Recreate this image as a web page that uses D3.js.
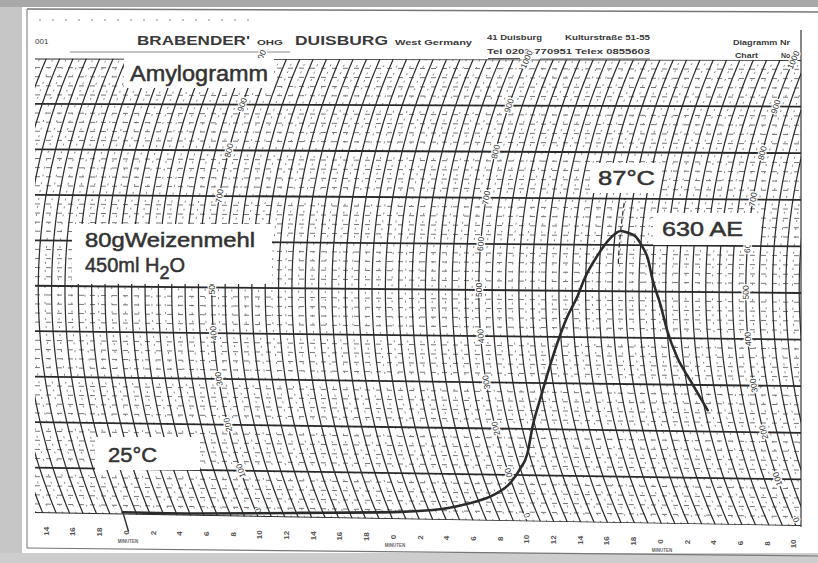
<!DOCTYPE html>
<html>
<head>
<meta charset="utf-8">
<script src="https://cdn.jsdelivr.net/npm/d3@7"></script>
<style>
  body { margin: 0; background: #fff; }
  svg { display: block; }
  text { font-family: "Liberation Sans", Arial, sans-serif; }
</style>
</head>
<body>
<svg id="chart" width="818" height="563"></svg>
<script>
// amylogram curve (minutes after start, Brabender units)
const curveMinutes = [0, 5.7, 13.3, 20.8, 23.3, 26.1, 28.3, 29.9, 30.9, 31.9, 32.8, 33.8, 34.6, 35.6, 36.5, 37.4, 37.9, 38.8, 39.7, 40.4, 41.0, 41.5, 42.1, 42.6, 43.0, 43.6, 44.0, 44.55, 45.3, 46.2]
const curveBU = [5, 5, 10, 16, 21, 36, 56, 83, 111, 148, 205, 264, 314, 380, 439, 489, 526, 576, 615, 630, 626, 620, 598, 571, 527, 471, 417, 360, 310, 246]

// printed scales of the chart paper
const buTicks = [0, 100, 200, 300, 400, 500, 600, 700, 800, 900, 1000]
const minuteTicks = [-6, -4, -2, 0, 2, 4, 6, 8, 10, 12, 14, 16, 18, 20, 22, 24, 26, 28, 30, 32, 34, 36, 38, 40, 42, 44, 46, 48, 50]
const minuteLabels = ["14", "16", "18", "0", "2", "4", "6", "8", "10", "12", "14", "16", "18", "0", "2", "4", "6", "8", "10", "12", "14", "16", "18", "0", "2", "4", "6", "8", "10"]
const minutenAt = [0, 20, 40]
const arcLabelMinutes = [10, 30, 50]

var svg = d3.select("#chart")

// paper geometry (the scan is a bit skewed, bottom sags to the right)
var xL = 35, xR = 801
var xMin = d3.scaleLinear().domain([0, 50]).range([125, 792.5])
var yLeft = d3.scaleLinear().domain([0, 1000]).range([513, 58.5])
var yRight = d3.scaleLinear().domain([0, 1000]).range([526, 60])
var R = 580, CY = 290, YREF = 518

function yAt(bu, x) {
    var f = (x - xL) / (xR - xL)
    return yLeft(bu) * (1 - f) + yRight(bu) * f
}
function off(y) { return R - Math.sqrt(R * R - (y - CY) * (y - CY)) }
// point on the pen arc of minute t at height bu
function pt(t, bu) {
    var xb = xMin(t), x = xb, y
    for (var i = 0; i < 4; i++) {
        y = yAt(bu, x)
        x = xb + off(y) - off(YREF)
    }
    return [x, y]
}

// scan frame
svg.append("rect").attr("x", 0).attr("y", 0).attr("width", 818).attr("height", 563).attr("fill", "#fff")
svg.append("rect").attr("x", 0).attr("y", 0).attr("width", 22).attr("height", 563).attr("fill", "#c6c6c6")
svg.append("rect").attr("x", 0).attr("y", 0).attr("width", 818).attr("height", 7).attr("fill", "#a8a8a8")
svg.append("rect").attr("x", 0).attr("y", 553).attr("width", 818).attr("height", 10).attr("fill", "#cdcdcd")
svg.append("line").attr("x1", 27).attr("y1", 9).attr("x2", 818).attr("y2", 12).attr("stroke", "#777").attr("stroke-width", 1.5)
svg.append("line").attr("x1", 27).attr("y1", 9).attr("x2", 27).attr("y2", 548).attr("stroke", "#888").attr("stroke-width", 1.2)
svg.append("line").attr("x1", 27).attr("y1", 548).attr("x2", 818).attr("y2", 556).attr("stroke", "#777").attr("stroke-width", 1.2)

// header
var hdr = svg.append("g").attr("fill", "#3a3a3a")
hdr.append("text").attr("x", 35).attr("y", 44).attr("font-size", 8).text("001")
hdr.append("text").attr("x", 137).attr("y", 45).attr("font-size", 12.5).attr("font-weight", "bold")
    .attr("textLength", 113).attr("lengthAdjust", "spacingAndGlyphs").text("BRABENDER'")
hdr.append("text").attr("x", 257).attr("y", 45).attr("font-size", 8).attr("font-weight", "bold")
    .attr("textLength", 26).attr("lengthAdjust", "spacingAndGlyphs").text("OHG")
hdr.append("text").attr("x", 295).attr("y", 45).attr("font-size", 12.5).attr("font-weight", "bold")
    .attr("textLength", 93).attr("lengthAdjust", "spacingAndGlyphs").text("DUISBURG")
hdr.append("text").attr("x", 395).attr("y", 45).attr("font-size", 7).attr("font-weight", "bold")
    .attr("textLength", 77).attr("lengthAdjust", "spacingAndGlyphs").text("West Germany")
hdr.append("text").attr("x", 487).attr("y", 40).attr("font-size", 7).attr("font-weight", "bold")
    .attr("textLength", 55).attr("lengthAdjust", "spacingAndGlyphs").text("41 Duisburg")
hdr.append("text").attr("x", 565).attr("y", 40).attr("font-size", 7).attr("font-weight", "bold")
    .attr("textLength", 85).attr("lengthAdjust", "spacingAndGlyphs").text("Kulturstraße 51-55")
hdr.append("text").attr("x", 487).attr("y", 54).attr("font-size", 7).attr("font-weight", "bold")
    .attr("textLength", 163).attr("lengthAdjust", "spacingAndGlyphs").text("Tel  0203-770951  Telex 0855603")
hdr.append("text").attr("x", 733).attr("y", 45).attr("font-size", 7).attr("font-weight", "bold")
    .attr("textLength", 57).attr("lengthAdjust", "spacingAndGlyphs").text("Diagramm Nr")
hdr.append("text").attr("x", 735).attr("y", 58).attr("font-size", 7).attr("font-weight", "bold")
    .attr("textLength", 23).attr("lengthAdjust", "spacingAndGlyphs").text("Chart")
hdr.append("text").attr("x", 781).attr("y", 58).attr("font-size", 7).attr("font-weight", "bold").text("No")
svg.append("line").attr("x1", 488).attr("y1", 58.5).attr("x2", 520).attr("y2", 58.5).attr("stroke", "#555")
svg.append("line").attr("x1", 540).attr("y1", 59).attr("x2", 650).attr("y2", 59).attr("stroke", "#555")
svg.append("line").attr("x1", 70).attr("y1", 52).attr("x2", 290).attr("y2", 52).attr("stroke", "#888")
svg.append("line").attr("x1", xR).attr("y1", 30).attr("x2", xR).attr("y2", 527).attr("stroke", "#444").attr("stroke-width", 1.3)
svg.selectAll(".dot").data(d3.range(40, 250, 13)).enter().append("circle")
    .attr("cx", d => d).attr("cy", 20).attr("r", 0.8).attr("fill", "#777")

// grid
var clip = [[xL, yAt(1000, xL)], [xR, yAt(1000, xR)], [xR, yAt(0, xR)], [xL, yAt(0, xL)]]
svg.append("clipPath").attr("id", "gridclip").append("polygon").attr("points", clip.map(p => p.join(",")).join(" "))
var grid = svg.append("g").attr("clip-path", "url(#gridclip)")
var arcLine = d3.line()

var minorBU = d3.range(0, 1001, 20).filter(b => b % 100 != 0)
grid.selectAll(".hminor").data(minorBU).enter().append("line")
    .attr("x1", xL).attr("x2", xR).attr("y1", d => yAt(d, xL)).attr("y2", d => yAt(d, xR))
    .attr("stroke", "#666").attr("stroke-width", 0.9).attr("stroke-dasharray", "5,6")

var arcT = d3.range(-10, 58, 1)
var halfT = d3.range(-9.5, 58, 1)
function arcPath(t, b0, b1) {
    return arcLine(d3.range(b0, b1 + 0.1, 20).map(b => pt(t, b)))
}
grid.selectAll(".aminor").data(halfT).enter().append("path")
    .attr("d", d => arcPath(d, 0, 1000)).attr("fill", "none")
    .attr("stroke", "#777").attr("stroke-width", 0.9).attr("stroke-dasharray", "2,6")
grid.selectAll(".amajor").data(arcT).enter().append("path")
    .attr("d", d => arcPath(d, 0, 1000)).attr("fill", "none")
    .attr("stroke", "#2e2e2e").attr("stroke-width", 1.25)
grid.selectAll(".hmajor").data(buTicks).enter().append("line")
    .attr("x1", xL).attr("x2", xR).attr("y1", d => yAt(d, xL)).attr("y2", d => yAt(d, xR))
    .attr("stroke", "#2a2a2a").attr("stroke-width", 1.8)

// start arc runs on below the baseline
var s0 = pt(0, 0)
svg.append("line").attr("x1", s0[0]).attr("y1", s0[1]).attr("x2", s0[0] + 5).attr("y2", s0[1] + 17)
    .attr("stroke", "#2e2e2e").attr("stroke-width", 1.4)

// BU numbers printed along some arcs
var arcLabels = []
arcLabelMinutes.forEach(t => buTicks.forEach(b => {
    var p = pt(t, b), p1 = pt(t, b - 5), p2 = pt(t, b + 5)
    var ang = Math.atan2(p2[1] - p1[1], p2[0] - p1[0]) * 180 / Math.PI
    arcLabels.push({ x: p[0], y: p[1] - (b == 0 ? 6 : 0), a: ang, txt: String(b) })
}))
svg.selectAll(".arclab").data(arcLabels).enter().append("text")
    .attr("transform", d => "translate(" + d.x + "," + d.y + ") rotate(" + d.a + ")")
    .attr("text-anchor", "middle").attr("dy", "0.35em").attr("font-size", 8.5)
    .attr("fill", "#333").attr("stroke", "#fff").attr("stroke-width", 2.5).attr("paint-order", "stroke")
    .text(d => d.txt)

// minute labels under the chart
svg.selectAll(".mlab").data(minuteTicks).enter().append("text")
    .attr("transform", (d, i) => { var x = xMin(d) + 1; return "translate(" + x + "," + (yAt(0, x) + 18) + ") rotate(-90)" })
    .attr("text-anchor", "middle").attr("dy", "0.35em").attr("font-size", 8).attr("font-weight", "bold")
    .attr("fill", "#555").text((d, i) => minuteLabels[i])
svg.selectAll(".minuten").data(minutenAt).enter().append("text")
    .attr("x", d => xMin(d) + 3).attr("y", d => yAt(0, xMin(d)) + 28)
    .attr("text-anchor", "middle").attr("font-size", 4.5).attr("font-weight", "bold").attr("fill", "#666")
    .text("MINUTEN")

// the recorded curve
var curvePts = curveMinutes.map((t, i) => pt(t, curveBU[i]))
svg.append("path").attr("d", d3.line().curve(d3.curveMonotoneX)(curvePts))
    .attr("fill", "none").attr("stroke", "#2b2b2b").attr("stroke-width", 2.6)
    .attr("stroke-linejoin", "round").attr("stroke-linecap", "round")
// peak marker
svg.append("path").attr("d", arcPath(40.4, 560, 700)).attr("fill", "none")
    .attr("stroke", "#333").attr("stroke-width", 1.3).attr("stroke-dasharray", "5,3")

// annotation boxes
var notes = svg.append("g")
function box(x, y, w, h) {
    notes.append("rect").attr("x", x).attr("y", y).attr("width", w).attr("height", h).attr("fill", "#fff")
}
function label(x, y, size, len, txt) {
    return notes.append("text").attr("x", x).attr("y", y).attr("font-size", size)
        .attr("textLength", len).attr("lengthAdjust", "spacingAndGlyphs")
        .attr("fill", "#333").attr("stroke", "#333").attr("stroke-width", 0.5).text(txt)
}
box(124, 58, 150, 30)
label(130, 81, 22, 138, "Amylogramm")
box(72, 224, 200, 60)
label(85, 247, 20, 170, "80gWeizenmehl")
var h2o = label(85, 272, 20, 120, "450ml H")
h2o.attr("textLength", null)
h2o.append("tspan").attr("dy", 7).attr("font-size", 18).text("2")
h2o.append("tspan").attr("dy", -7).text("O")
box(95, 437, 105, 33)
label(108, 462, 20, 49, "25°C")
box(590, 163, 70, 30)
label(598, 185, 20, 57, "87°C")
box(653, 213, 105, 32)
label(662, 236, 20, 81, "630 AE")
</script>
</body>
</html>
